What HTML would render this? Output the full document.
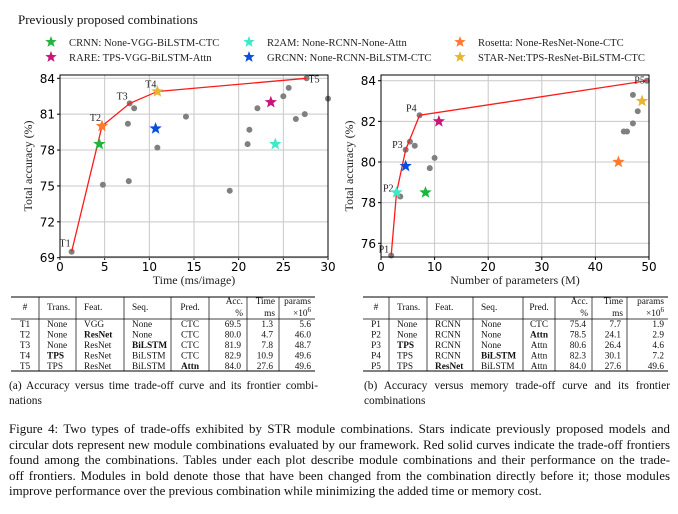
<!DOCTYPE html>
<html><head><meta charset="utf-8">
<style>
body{margin:0;background:#fff;width:678px;height:514px;overflow:hidden;font-family:"Liberation Serif",serif;}
svg{position:absolute;left:0;top:0}
.cap{position:absolute;color:#111;}
.cap div{text-align:justify;text-align-last:justify;white-space:nowrap;}
.cap div.last{text-align-last:left;}
</style></head>
<body>
<svg id="fig" width="678" height="514"></svg>
<div class="cap" style="left:9px;top:379px;width:309px;font-size:11.4px;line-height:14.5px;"><div>(a) Accuracy versus time trade-off curve and its frontier combi-</div><div class="last">nations</div></div>
<div class="cap" style="left:364px;top:379px;width:306px;font-size:11.4px;line-height:14.5px;"><div>(b) Accuracy versus memory trade-off curve and its frontier</div><div class="last">combinations</div></div>
<div class="cap" style="left:9px;top:422px;width:661px;font-size:12.9px;line-height:15.6px;">
<div>Figure 4: Two types of trade-offs exhibited by STR module combinations. Stars indicate previously proposed models and</div>
<div>circular dots represent new module combinations evaluated by our framework. Red solid curves indicate the trade-off frontiers</div>
<div>found among the combinations. Tables under each plot describe module combinations and their performance on the trade-</div>
<div>off frontiers. Modules in bold denote those that have been changed from the combination directly before it; those modules</div>
<div class="last">improve performance over the previous combination while minimizing the added time or memory cost.</div>
</div>
<script>
// Plot A data (time)
const aDotsX=[1.3,4.7,7.8,10.9,27.6,4.8,7.7,7.6,8.3,10.9,14.1,19.0,21.0,21.2,22.1,25.0,25.6,26.4,27.4,30.0];
const aDotsY=[69.5,80.0,81.9,82.9,84.0,75.1,75.4,80.2,81.5,78.2,80.8,74.6,78.5,79.7,81.5,82.5,83.2,80.6,81.0,82.3];
const aFrontX=[1.3,4.7,7.8,10.9,27.6];
const aFrontY=[69.5,80.0,81.9,82.9,84.0];
const aFrontLbl=["T1","T2","T3","T4","T5"];
const aStarX=[4.4,23.6,24.1,10.7,4.7,10.9];
const aStarY=[78.5,82.0,78.5,79.8,80.0,82.9];
const aXTicks=[0,5,10,15,20,25,30];
const aYTicks=[69,72,75,78,81,84];
// Plot B data (params)
const bDotsX=[1.9,3.6,4.6,5.4,6.3,7.2,9.1,10.0,45.3,45.9,47.0,47.0,47.9,49.6];
const bDotsY=[75.4,78.3,80.6,81.0,80.8,82.3,79.7,80.2,81.5,81.5,81.9,83.3,82.5,84.0];
const bFrontX=[1.9,2.9,4.6,7.2,49.6];
const bFrontY=[75.4,78.5,80.6,82.3,84.0];
const bFrontLbl=["P1","P2","P3","P4","P5"];
const bStarX=[8.3,10.8,2.9,4.6,44.3,48.7];
const bStarY=[78.5,82.0,78.5,79.8,80.0,83.0];
const bXTicks=[0,10,20,30,40,50];
const bYTicks=[76,78,80,82,84];
const starColors=["#1db53a","#c8157a","#3ee8c8","#0a4ee0","#ff7a30","#e8b530"];
const legendNames=["CRNN: None-VGG-BiLSTM-CTC","RARE: TPS-VGG-BiLSTM-Attn","R2AM:    None-RCNN-None-Attn","GRCNN: None-RCNN-BiLSTM-CTC","Rosetta:    None-ResNet-None-CTC","STAR-Net:TPS-ResNet-BiLSTM-CTC"];

const NS="http://www.w3.org/2000/svg";
const svg=document.getElementById('fig');
function mk(tag,attrs,parent){const e=document.createElementNS(NS,tag);for(const k in attrs)e.setAttribute(k,attrs[k]);(parent||svg).appendChild(e);return e;}
function starPath(cx,cy,R){let d="";for(let i=0;i<10;i++){const r=i%2?R*0.42:R;const a=-Math.PI/2+i*Math.PI/5;d+=(i?"L":"M")+(cx+r*Math.cos(a)).toFixed(2)+","+(cy+r*Math.sin(a)).toFixed(2);}return d+"Z";}

// title + legend
let t=mk('text',{x:18,y:24,'font-size':13,'font-family':'Liberation Serif, serif',fill:'#111'});t.textContent="Previously proposed combinations";


const starX=[51,249,460], textX=[69,267,478];
for(let i=0;i<6;i++){
  const col=Math.floor(i/2),row=i%2;
  const g=mk('g',{});
  
  
  mk('path',{d:starPath(starX[col],42+row*15,6),fill:starColors[i]},g);
  const tx=mk('text',{x:textX[col],y:46+row*15,'font-size':10.6,'font-family':'Liberation Serif, serif',fill:'#222','xml:space':'preserve'},g);
  tx.textContent=legendNames[i];
}

function plot(cfg){
  const {L,R,T,B,xmin,xmax}=cfg;
  const g=mk('g',{});
  
  
  const X=v=>L+(v-xmin)/(xmax-xmin)*(R-L);
  const Y=v=>cfg.y0+(v-cfg.v0)/(cfg.v1-cfg.v0)*(cfg.y1-cfg.y0);
  cfg.xt.forEach(v=>{
    mk('line',{x1:X(v),x2:X(v),y1:T,y2:B,stroke:'#c8c8c8','stroke-width':1},g);
    mk('line',{x1:X(v),x2:X(v),y1:B,y2:B+3,stroke:'#000'},g);
    const tx=mk('text',{x:X(v),y:B+14,'text-anchor':'middle','font-size':12,'font-family':'DejaVu Sans, sans-serif',fill:'#000'},g);tx.textContent=v;
    
  });
  cfg.yt.forEach(v=>{
    mk('line',{x1:L,x2:R,y1:Y(v),y2:Y(v),stroke:'#c8c8c8','stroke-width':1},g);
    mk('line',{x1:L-3,x2:L,y1:Y(v),y2:Y(v),stroke:'#000'},g);
    const tx=mk('text',{x:L-5,y:Y(v)+4.5,'text-anchor':'end','font-size':12,'font-family':'DejaVu Sans, sans-serif',fill:'#000'},g);tx.textContent=v;
    
  });
  cfg.dx.forEach((v,i)=>{const c=mk('circle',{cx:X(v),cy:Y(cfg.dy[i]),r:3,fill:'#808080'},g);
    });
  let d="";cfg.fx.forEach((v,i)=>{d+=(i?"L":"M")+X(v)+","+Y(cfg.fy[i]);});
  const ln=mk('path',{d:d,fill:'none',stroke:'#ff1a1a','stroke-width':1.3},g);
  
  cfg.fx.forEach((v,i)=>{
    const o=cfg.lo[i];
    const tx=mk('text',{x:X(v)+o[0],y:Y(cfg.fy[i])+o[1],'text-anchor':o[2],'font-size':10,'font-family':'Liberation Serif, serif',fill:'#222'},g);tx.textContent=cfg.fl[i];
    
  });
  cfg.sx.forEach((v,i)=>{const p=mk('path',{d:starPath(X(v),Y(cfg.sy[i]),6.5),fill:starColors[i]},g);
    });
  mk('rect',{x:L,y:T,width:R-L,height:B-T,fill:'none',stroke:'#000','stroke-width':1},g);
  const xl=mk('text',{x:(L+R)/2,y:B+27,'text-anchor':'middle','font-size':12,'font-family':'Liberation Serif, serif',fill:'#222'},g);xl.textContent=cfg.xlab;
  
  const yl=mk('text',{x:0,y:0,'text-anchor':'middle','font-size':12,'font-family':'Liberation Serif, serif',fill:'#222',transform:`translate(${cfg.ylx},${(T+B)/2}) rotate(-90)`},g);yl.textContent="Total accuracy (%)";
  
}
plot({name:'time-plot',L:60,R:328,T:75,B:257,xmin:0,xmax:30,y0:78.3,v0:84,y1:257.7,v1:69,xt:aXTicks,yt:aYTicks,
  dx:aDotsX,dy:aDotsY,fx:aFrontX,fy:aFrontY,fl:aFrontLbl,sx:aStarX,sy:aStarY,xlab:"Time (ms/image)",ylx:32,
  lo:[[-1,-5,'end'],[-1,-5,'end'],[-2,-4,'end'],[-1,-4,'end'],[2,4,'start']]});
plot({name:'params-plot',L:381,R:649,T:75,B:257,xmin:0,xmax:50,y0:80.7,v0:84,y1:243.3,v1:76,xt:bXTicks,yt:bYTicks,
  dx:bDotsX,dy:bDotsY,fx:bFrontX,fy:bFrontY,fl:bFrontLbl,sx:bStarX,sy:bStarY,xlab:"Number of parameters (M)",ylx:353,
  lo:[[-2,-3,'end'],[-3,-1,'end'],[-3,-2,'end'],[-3,-4,'end'],[-2,3,'end']]});

// Tables
const tHead=["#","Trans.","Feat.","Seq.","Pred."];
const tRowsA=[["T1","None","VGG","None","CTC","69.5","1.3","5.6"],["T2","None","*ResNet","None","CTC","80.0","4.7","46.0"],["T3","None","ResNet","*BiLSTM","CTC","81.9","7.8","48.7"],["T4","*TPS","ResNet","BiLSTM","CTC","82.9","10.9","49.6"],["T5","TPS","ResNet","BiLSTM","*Attn","84.0","27.6","49.6"]];
const tRowsB=[["P1","None","RCNN","None","CTC","75.4","7.7","1.9"],["P2","None","RCNN","None","*Attn","78.5","24.1","2.9"],["P3","*TPS","RCNN","None","Attn","80.6","26.4","4.6"],["P4","TPS","RCNN","*BiLSTM","Attn","82.3","30.1","7.2"],["P5","TPS","*ResNet","BiLSTM","Attn","84.0","27.6","49.6"]];
function table(cols,rows,name){
  const g=mk('g',{});
  
  
  const L=cols[0],R=cols[cols.length-1];
  [297,319,371].forEach((y,i)=>mk('line',{x1:L,x2:R,y1:y,y2:y,stroke:'#000','stroke-width':i==1?0.8:1},g));
  cols.slice(1,-1).forEach(x=>mk('line',{x1:x,x2:x,y1:297,y2:371,stroke:'#000','stroke-width':0.7},g));
  const fs=9.3, ff='Liberation Serif, serif';
  const T=(x,y,s,a,b)=>{const e=mk('text',{x:x,y:y,'text-anchor':a,'font-size':fs,'font-family':ff,'font-weight':b?'bold':'normal',fill:'#111'},g);e.textContent=s;return e;};
  T((cols[0]+cols[1])/2,310,"#","middle");
  for(let i=1;i<5;i++)T(cols[i]+(i==4?(cols[5]-cols[4])/2:8),310,tHead[i],i==4?'middle':'start');
  T(cols[6]-4,304,"Acc.","end");T(cols[6]-4,316,"%","end");
  T(cols[7]-4,304,"Time","end");T(cols[7]-4,316,"ms","end");
  T(cols[8]-4,304,"params","end");
  const e=T(cols[8]-4,316,"×10","end");const sp=document.createElementNS(NS,'tspan');sp.setAttribute('dy','-4');sp.setAttribute('font-size','7');sp.textContent="6";e.appendChild(sp);
  rows.forEach((r,j)=>{
    const y=327+j*10.5;
    r.forEach((c,i)=>{
      let b=c[0]=="*",s=b?c.slice(1):c;
      if(i==0)T((cols[0]+cols[1])/2,y,s,'middle',b);
      else if(i<4)T(cols[i]+8,y,s,'start',b);
      else if(i==4)T((cols[4]+cols[5])/2,y,s,'middle',b);
      else T(cols[i+1]-(i==7?4:6),y,s,'end',b);
    });
  });
}
table([11,39,76,124,171,209,247,279,315],tRowsA,'time-table');
table([363,389,427,473,523,555,592,627,668],tRowsB,'params-table');
</script>
</body></html>
